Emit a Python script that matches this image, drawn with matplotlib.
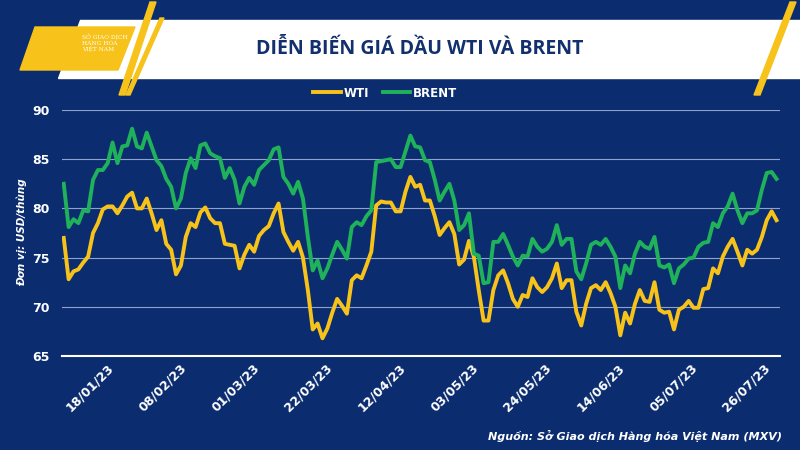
import numpy as np
import pandas as pd
import matplotlib
matplotlib.use("Agg")
import matplotlib.pyplot as plt
import matplotlib.dates as mdates
from matplotlib.patches import Polygon, Rectangle

wti = [77.0, 72.8, 73.6, 73.8, 74.5, 75.1, 77.5, 78.5, 79.9, 80.2, 80.2, 79.5, 80.3, 81.2, 81.6, 80.0,
       80.0, 81.0, 79.5, 77.8, 78.8, 76.4, 75.8, 73.3, 74.2, 77.1, 78.5, 78.1, 79.6, 80.1, 79.0, 78.5,
       78.5, 76.4, 76.3, 76.2, 73.9, 75.3, 76.3, 75.6, 77.2, 77.8, 78.2, 79.5, 80.5, 77.6, 76.6, 75.7,
       76.6, 75.0, 71.7, 67.7, 68.3, 66.8, 67.8, 69.4, 70.8, 70.1, 69.3, 72.7, 73.2, 72.9, 74.2, 75.6,
       80.3, 80.7, 80.6, 80.6, 79.7, 79.7, 81.7, 83.2, 82.2, 82.4,
       80.8, 80.8, 79.2, 77.3, 78.0, 78.6, 77.4, 74.3, 74.8, 76.7, 75.1, 71.7, 68.6, 68.6, 71.7, 73.2,
       73.7, 72.4, 70.8, 70.0, 71.2, 71.0, 72.9, 72.0, 71.5, 72.0, 72.9, 74.4, 71.9, 72.7, 72.7, 69.5,
       68.1, 70.3, 71.9, 72.2, 71.7, 72.5, 71.4, 70.0, 67.1, 69.4, 68.3, 70.3, 71.7, 70.6, 70.5, 72.5,
       69.7, 69.4, 69.5, 67.7, 69.7, 70.0, 70.6, 69.9, 69.9, 71.8, 71.9, 73.9, 73.4, 75.1, 76.1, 76.9,
       75.6, 74.2, 75.8, 75.4, 75.8, 77.1, 78.8, 79.7, 78.8]

brent = [82.5, 78.1, 78.9, 78.5, 79.8, 79.7, 82.9, 83.9, 83.9, 84.6, 86.7, 84.6, 86.3, 86.4, 88.1, 86.3,
         86.1, 87.7, 86.3, 84.9, 84.3, 83.0, 82.2, 80.0, 81.0, 83.6, 85.1, 84.1, 86.4, 86.6, 85.6, 85.3,
         85.1, 83.1, 84.1, 82.9, 80.5, 82.2, 83.1, 82.4, 83.9, 84.4, 84.9, 86.0, 86.2, 83.2, 82.5, 81.5,
         82.7, 81.0, 77.1, 73.7, 74.7, 72.9, 73.9, 75.3, 76.6, 75.8, 74.9, 78.1, 78.6, 78.3, 79.2, 79.8,
         84.7, 84.8, 84.9, 85.0, 84.2, 84.2, 85.8, 87.4, 86.3, 86.2,
         84.9, 84.7, 82.9, 80.8, 81.7, 82.5, 80.8, 77.8, 78.3, 79.5, 75.4, 75.2, 72.4, 72.5, 76.6, 76.6,
         77.4, 76.3, 75.1, 74.2, 75.2, 75.1, 76.9, 76.1, 75.6, 75.9, 76.6, 78.3, 76.3, 76.9, 76.9, 73.6,
         72.8, 74.4, 76.3, 76.6, 76.3, 76.9, 76.1, 75.1, 71.9, 74.2, 73.4, 75.4, 76.6, 76.1, 75.9, 77.1,
         74.2, 74.0, 74.3, 72.4, 73.9, 74.3, 74.9, 75.0, 76.1, 76.5, 76.6, 78.5, 78.1, 79.5, 80.2, 81.5,
         79.8, 78.5, 79.5, 79.5, 79.8, 81.9, 83.6, 83.7, 83.0]

start_date = "2023-01-03"
end_date = "2023-07-27"
tick_dates = ["2023-01-18", "2023-02-08", "2023-03-01", "2023-03-22", "2023-04-12",
              "2023-05-03", "2023-05-24", "2023-06-14", "2023-07-05", "2023-07-26"]
yticks = [65, 70, 75, 80, 85, 90]

navy = "#0b2d6f"
plot_bg = "#0d3382"
yellow = "#f7c21a"
green = "#1fb25a"

t0 = pd.Timestamp(start_date)
t1 = pd.Timestamp(end_date)
x_wti = pd.to_datetime(np.linspace(t0.value, t1.value, len(wti)))
x_brent = pd.to_datetime(np.linspace(t0.value, t1.value, len(brent)))

fig = plt.figure(figsize=(8, 4.5), dpi=100, facecolor=navy)

# header band + logo
hdr = fig.add_axes([0, 0, 1, 1], zorder=0)
hdr.set_xlim(0, 800)
hdr.set_ylim(450, 0)
hdr.axis("off")
hdr.add_patch(Rectangle((0, 0), 800, 450, color=navy))
hdr.add_patch(Polygon([(80, 20), (800, 20), (800, 78), (58, 78)], color="white"))
hdr.add_patch(Polygon([(35, 27), (135, 27), (118, 70), (20, 70)], color=yellow))
hdr.add_patch(Polygon([(150, 2), (156, 2), (125, 95), (119, 95)], color=yellow))
hdr.add_patch(Polygon([(160, 18), (164, 18), (130, 95), (126, 95)], color=yellow))
hdr.add_patch(Polygon([(790, 2), (796, 2), (760, 95), (754, 95)], color=yellow))
hdr.text(82, 43, "SỞ GIAO DỊCH\nHÀNG HÓA\nVIỆT NAM", color="white", fontsize=4.2,
         family="DejaVu Serif", va="center", linespacing=1.1)
hdr.text(420, 49, "DIỄN BIẾN GIÁ DẦU WTI VÀ BRENT", color="#13306e", fontsize=14,
         fontweight="bold", family="Open Sans", ha="center", va="center")
hdr.text(22, 232, "Đơn vị: USD/thùng", color="white", fontsize=7.5, fontweight="bold",
         style="italic", rotation=90, ha="center", va="center")
hdr.text(782, 436, "Nguồn: Sở Giao dịch Hàng hóa Việt Nam (MXV)", color="white", fontsize=8,
         fontweight="bold", style="italic", ha="right", va="center")

ax = fig.add_axes([62 / 800, 1 - 356 / 450, 718 / 800, 246 / 450], zorder=2)
ax.set_facecolor("none")
ax.plot(x_wti, wti, color=yellow, lw=2.8, label="WTI", solid_joinstyle="round")
ax.plot(x_brent, brent, color=green, lw=2.8, label="BRENT", solid_joinstyle="round")
ax.set_ylim(65, 90)
ax.set_xlim(t0 - pd.Timedelta(days=0.5), t1 + pd.Timedelta(days=1))
ax.set_yticks(yticks)
ax.set_xticks(pd.to_datetime(tick_dates))
ax.xaxis.set_major_formatter(mdates.DateFormatter("%d/%m/%y"))
ax.grid(axis="y", color="#8ea2cc", lw=0.8)
ax.set_axisbelow(True)
for s in ["top", "right", "left"]:
    ax.spines[s].set_visible(False)
ax.spines["bottom"].set_color("white")
ax.spines["bottom"].set_linewidth(1.5)
ax.tick_params(axis="both", length=0, colors="white", labelsize=9)
for lbl in ax.get_yticklabels():
    lbl.set_fontweight("bold")
    lbl.set_x(-0.01)
for lbl in ax.get_xticklabels():
    lbl.set_fontweight("bold")
    lbl.set_rotation(45)
    lbl.set_ha("right")
    lbl.set_va("top")
ax.tick_params(axis="x", pad=4)
leg = ax.legend(loc="lower center", bbox_to_anchor=(0.45, 1.0), ncol=2, frameon=False,
                handlelength=2.0, columnspacing=1.0, handletextpad=0.2, borderaxespad=0.3)
for t in leg.get_texts():
    t.set_color("white")
    t.set_fontweight("bold")
    t.set_fontsize(8.5)

fig.savefig("out.png", dpi=100, facecolor=navy)
